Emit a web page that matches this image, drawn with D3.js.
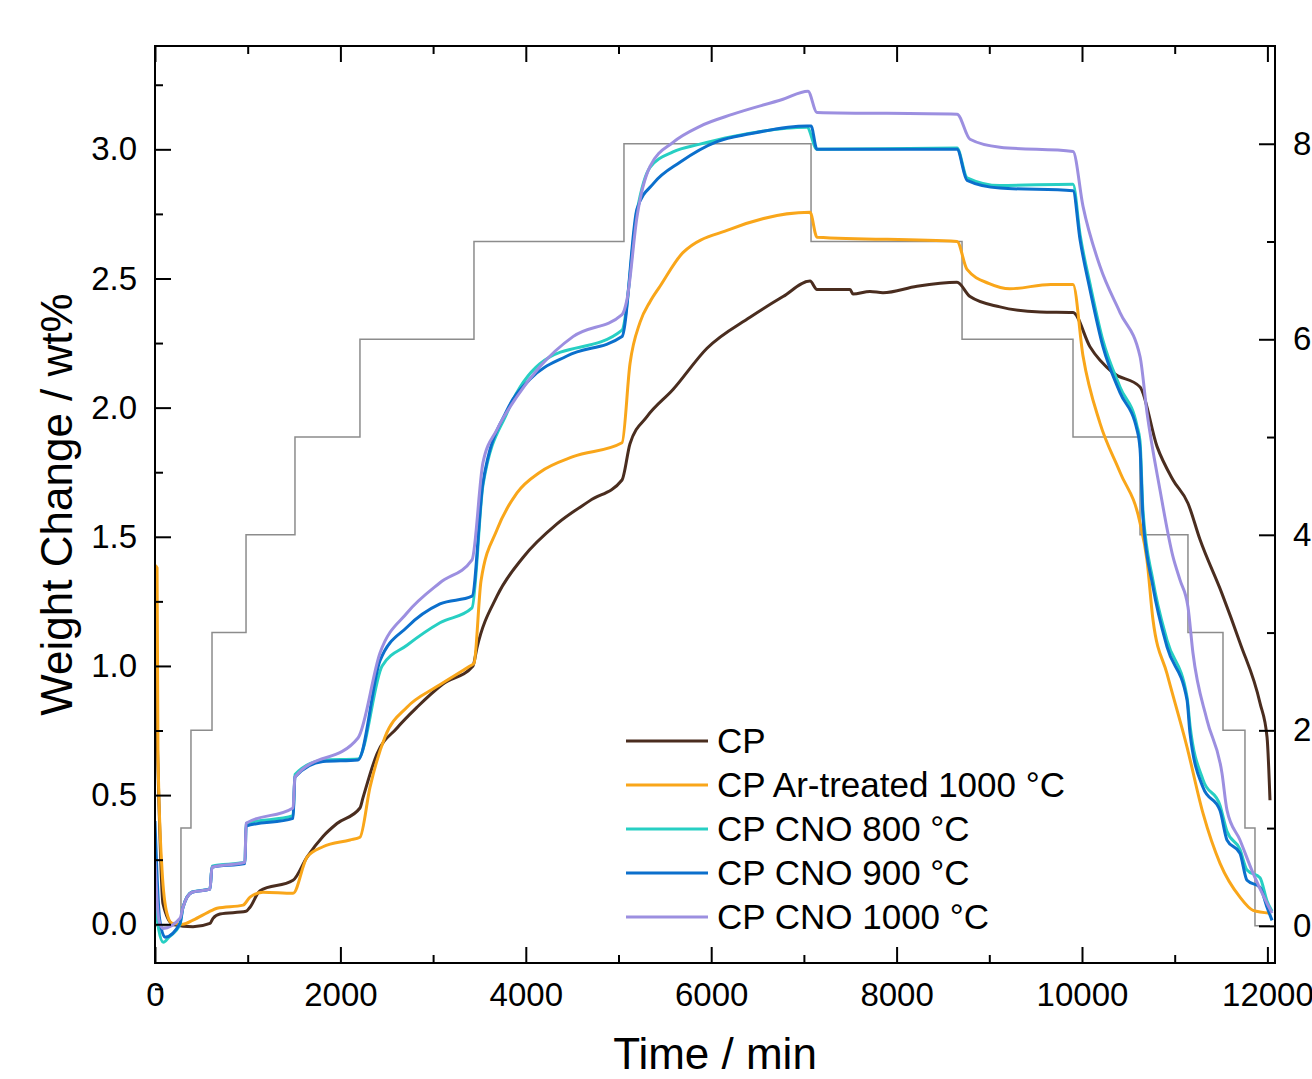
<!DOCTYPE html>
<html>
<head>
<meta charset="utf-8">
<script src="https://cdn.jsdelivr.net/npm/d3@7"></script>
<style>
  html, body { margin: 0; padding: 0; background: #fff; }
  svg { display: block; }
</style>
</head>
<body>
<div id="chart"></div>
<script>
// series: [time (min), weight change (wt%)]
const cp = [[0,1.05],[40,0.5],[86,0.08],[194,0.0],[410,-0.01],[593,0.003],[626,0.023],[701,0.04],[982,0.05],[1025,0.066],[1133,0.13],[1489,0.17],[1640,0.26],[1812,0.34],[1963,0.39],[2211,0.45],[2244,0.49],[2395,0.66],[2611,0.76],[2826,0.84],[3106,0.93],[3430,1.0],[3473,1.07],[3689,1.27],[3970,1.42],[4336,1.55],[4692,1.64],[5038,1.72],[5124,1.86],[5307,1.965],[5588,2.07],[5955,2.23],[6419,2.35],[6775,2.43],[7066,2.49],[7141,2.457],[7498,2.457],[7530,2.44],[7713,2.45],[7853,2.445],[8220,2.47],[8652,2.485],[8792,2.43],[9115,2.39],[9547,2.37],[9903,2.368],[10086,2.236],[10334,2.135],[10626,2.08],[10809,1.85],[10982,1.72],[11143,1.63],[11272,1.49],[11510,1.28],[11704,1.09],[11920,0.857],[11996,0.725],[12028,0.48]];
const cpAr = [[0,1.39],[22,1.38],[32,0.66],[76,0.21],[130,0.04],[183,0.004],[302,0.0],[410,0.016],[615,0.054],[669,0.062],[950,0.074],[1025,0.105],[1165,0.124],[1489,0.12],[1640,0.26],[1812,0.30],[2104,0.326],[2211,0.337],[2319,0.53],[2481,0.725],[2718,0.84],[3041,0.92],[3398,1.0],[3441,1.01],[3517,1.33],[3689,1.527],[3905,1.67],[4153,1.75],[4509,1.81],[5038,1.864],[5124,2.17],[5232,2.33],[5340,2.41],[5448,2.47],[5695,2.6],[6201,2.69],[7066,2.756],[7141,2.66],[8652,2.643],[8760,2.535],[9000,2.48],[9223,2.46],[9663,2.477],[9903,2.477],[10011,2.2],[10194,1.94],[10410,1.75],[10626,1.554],[10701,1.41],[10766,1.178],[10917,0.97],[11133,0.686],[11305,0.43],[11489,0.236],[11704,0.105],[11845,0.054],[12028,0.043]];
const cno800 = [[0,0.10],[40,-0.02],[90,-0.07],[150,-0.05],[270,0.0],[302,0.066],[399,0.125],[593,0.137],[615,0.225],[971,0.24],[982,0.39],[1489,0.42],[1510,0.58],[1812,0.635],[2190,0.64],[2450,1.0],[2718,1.08],[3074,1.167],[3420,1.225],[3538,1.7],[3797,1.98],[4153,2.17],[5038,2.3],[5200,2.76],[5340,2.93],[5588,2.99],[5879,3.02],[6235,3.05],[7033,3.085],[7141,3.0],[8652,3.005],[8760,2.89],[9115,2.86],[9903,2.865],[9979,2.67],[10086,2.48],[10226,2.26],[10410,2.08],[10593,1.93],[10626,1.87],[10658,1.6],[10766,1.33],[10917,1.1],[11133,0.88],[11165,0.77],[11305,0.56],[11489,0.46],[11564,0.36],[11704,0.29],[11780,0.21],[11920,0.18],[11996,0.09],[12050,0.05]];
const cno900 = [[0,0.4],[50,0.02],[108,-0.05],[270,0.004],[302,0.066],[399,0.124],[593,0.136],[615,0.221],[971,0.235],[982,0.38],[1489,0.41],[1510,0.57],[1812,0.63],[2190,0.636],[2427,1.02],[2718,1.15],[3074,1.24],[3420,1.27],[3538,1.71],[3797,1.99],[4045,2.11],[4444,2.2],[5038,2.275],[5200,2.77],[5383,2.87],[5663,2.95],[6063,3.03],[6419,3.06],[7033,3.09],[7077,3.09],[7141,3.0],[8652,3.0],[8760,2.88],[9115,2.85],[9903,2.84],[9979,2.65],[10086,2.457],[10226,2.236],[10410,2.058],[10593,1.915],[10626,1.84],[10658,1.57],[10766,1.306],[10917,1.074],[11133,0.868],[11165,0.74],[11305,0.53],[11489,0.44],[11564,0.326],[11704,0.275],[11780,0.17],[11920,0.143],[11996,0.066],[12050,0.015]];
const cno1000 = [[0,0.25],[40,0.02],[86,-0.016],[270,0.023],[302,0.066],[399,0.124],[593,0.136],[615,0.221],[971,0.24],[982,0.391],[1489,0.45],[1510,0.57],[2190,0.721],[2427,1.05],[2718,1.205],[3074,1.322],[3420,1.411],[3538,1.787],[3689,1.915],[3905,2.043],[4153,2.159],[4509,2.275],[5038,2.36],[5092,2.419],[5200,2.74],[5340,2.934],[5588,3.027],[5879,3.089],[6235,3.136],[6775,3.194],[7044,3.225],[7141,3.143],[8652,3.136],[8792,3.039],[9115,3.008],[9903,2.992],[10011,2.779],[10194,2.547],[10410,2.368],[10626,2.198],[10701,1.981],[10841,1.682],[10982,1.422],[11057,1.333],[11143,1.229],[11197,1.05],[11348,0.791],[11510,0.585],[11564,0.442],[11704,0.326],[11845,0.198],[11996,0.081],[12050,0.043]];

// right axis programme (step levels)
const stepTimes = [0,280,388,615,982,1510,2211,3441,5059,7077,8706,9903,10626,11143,11521,11758,11866,12028];
const stepLevels = [0,1,2,3,4,5,6,7,8,7,6,5,4,3,2,1,0,0];

const seriesNames = ["CP", "CP Ar-treated 1000 °C", "CP CNO 800 °C", "CP CNO 900 °C", "CP CNO 1000 °C"];
const seriesData = [cp, cpAr, cno800, cno900, cno1000];
const seriesColors = ["#4a2d1f", "#f9a61a", "#27cfc3", "#0b6fcc", "#9c8fe0"];

const leftTicks = [0, 0.5, 1.0, 1.5, 2.0, 2.5, 3.0];
const leftMinor = [-0.25, 0.25, 0.75, 1.25, 1.75, 2.25, 2.75, 3.25];
const xTicks = [0, 2000, 4000, 6000, 8000, 10000, 12000];
const xMinor = [1000, 3000, 5000, 7000, 9000, 11000];
const rightTicks = [0, 2, 4, 6, 8];
const rightMinor = [1, 3, 5, 7];

const W = 1312, H = 1079;
const mLeft = 155, mRight = 1275, mTop = 46, mBottom = 963;
const font = 'Arial, "Liberation Sans", sans-serif';

const svg = d3.select("#chart").append("svg")
  .attr("width", W)
  .attr("height", H)
  .style("background", "#fff");

const x = d3.scaleLinear().domain([0, 12082]).range([mLeft, mRight]);
const y = d3.scaleLinear().domain([-0.15, 3.40]).range([mBottom, mTop]);
const y2 = d3.scaleLinear().domain([-0.38, 9.0]).range([mBottom, mTop]);

const clip = svg.append("defs").append("clipPath").attr("id", "plot-clip");
clip.append("rect").attr("x", mLeft).attr("y", mTop).attr("width", mRight - mLeft).attr("height", mBottom - mTop);

const plot = svg.append("g").attr("clip-path", "url(#plot-clip)");

// step programme on right axis
const stepLine = d3.line()
  .x(d => x(d[0]))
  .y(d => y2(d[1]))
  .curve(d3.curveStepAfter);
plot.append("path")
  .datum(stepTimes.map((t, i) => [t, stepLevels[i]]))
  .attr("d", stepLine)
  .attr("fill", "none")
  .attr("stroke", "#8c8c8c")
  .attr("stroke-width", 1.5);

const line = d3.line()
  .x(d => x(d[0]))
  .y(d => y(d[1]))
  .curve(d3.curveMonotoneX);

seriesData.forEach((s, i) => {
  plot.append("path")
    .datum(s)
    .attr("d", line)
    .attr("fill", "none")
    .attr("stroke", seriesColors[i])
    .attr("stroke-width", 3)
    .attr("stroke-linejoin", "round");
});

// axes (ticks pointing inward)
function styleAxis(g) {
  g.select(".domain").remove();
  g.selectAll("line").attr("stroke", "#000").attr("stroke-width", 2);
  g.selectAll("text").attr("font-family", font).attr("font-size", 33).attr("fill", "#000");
}

svg.append("g").attr("transform", `translate(${mLeft},0)`)
  .call(d3.axisLeft(y).tickValues(leftTicks).tickFormat(d3.format(".1f")).tickSizeInner(-16).tickSizeOuter(0).tickPadding(18))
  .call(styleAxis);
svg.append("g").attr("transform", `translate(${mLeft},0)`)
  .call(d3.axisLeft(y).tickValues(leftMinor).tickFormat("").tickSizeInner(-8).tickSizeOuter(0))
  .call(styleAxis);

svg.append("g").attr("transform", `translate(0,${mBottom})`)
  .call(d3.axisBottom(x).tickValues(xTicks).tickFormat(d3.format("d")).tickSizeInner(-16).tickSizeOuter(0).tickPadding(20))
  .call(styleAxis);
svg.append("g").attr("transform", `translate(0,${mBottom})`)
  .call(d3.axisBottom(x).tickValues(xMinor).tickFormat("").tickSizeInner(-8).tickSizeOuter(0))
  .call(styleAxis);

svg.append("g").attr("transform", `translate(0,${mTop})`)
  .call(d3.axisTop(x).tickValues(xTicks).tickFormat("").tickSizeInner(-16).tickSizeOuter(0))
  .call(styleAxis);
svg.append("g").attr("transform", `translate(0,${mTop})`)
  .call(d3.axisTop(x).tickValues(xMinor).tickFormat("").tickSizeInner(-8).tickSizeOuter(0))
  .call(styleAxis);

svg.append("g").attr("transform", `translate(${mRight},0)`)
  .call(d3.axisRight(y2).tickValues(rightTicks).tickFormat(d3.format("d")).tickSizeInner(-16).tickSizeOuter(0).tickPadding(18))
  .call(styleAxis);
svg.append("g").attr("transform", `translate(${mRight},0)`)
  .call(d3.axisRight(y2).tickValues(rightMinor).tickFormat("").tickSizeInner(-8).tickSizeOuter(0))
  .call(styleAxis);

// frame
svg.append("rect")
  .attr("x", mLeft).attr("y", mTop)
  .attr("width", mRight - mLeft).attr("height", mBottom - mTop)
  .attr("fill", "none").attr("stroke", "#000").attr("stroke-width", 2);

// axis titles
svg.append("text")
  .attr("x", (mLeft + mRight) / 2).attr("y", 1069)
  .attr("text-anchor", "middle")
  .attr("font-family", font).attr("font-size", 44)
  .text("Time / min");

svg.append("text")
  .attr("transform", `translate(72,${(mTop + mBottom) / 2}) rotate(-90)`)
  .attr("text-anchor", "middle")
  .attr("font-family", font).attr("font-size", 44)
  .text("Weight Change / wt%");

// legend
const legend = svg.append("g");
seriesNames.forEach((name, i) => {
  const cy = 741 + i * 44;
  legend.append("line")
    .attr("x1", 626).attr("x2", 708)
    .attr("y1", cy).attr("y2", cy)
    .attr("stroke", seriesColors[i]).attr("stroke-width", 3);
  legend.append("text")
    .attr("x", 717).attr("y", cy + 12)
    .attr("font-family", font).attr("font-size", 35)
    .text(name);
});
</script>
</body>
</html>
